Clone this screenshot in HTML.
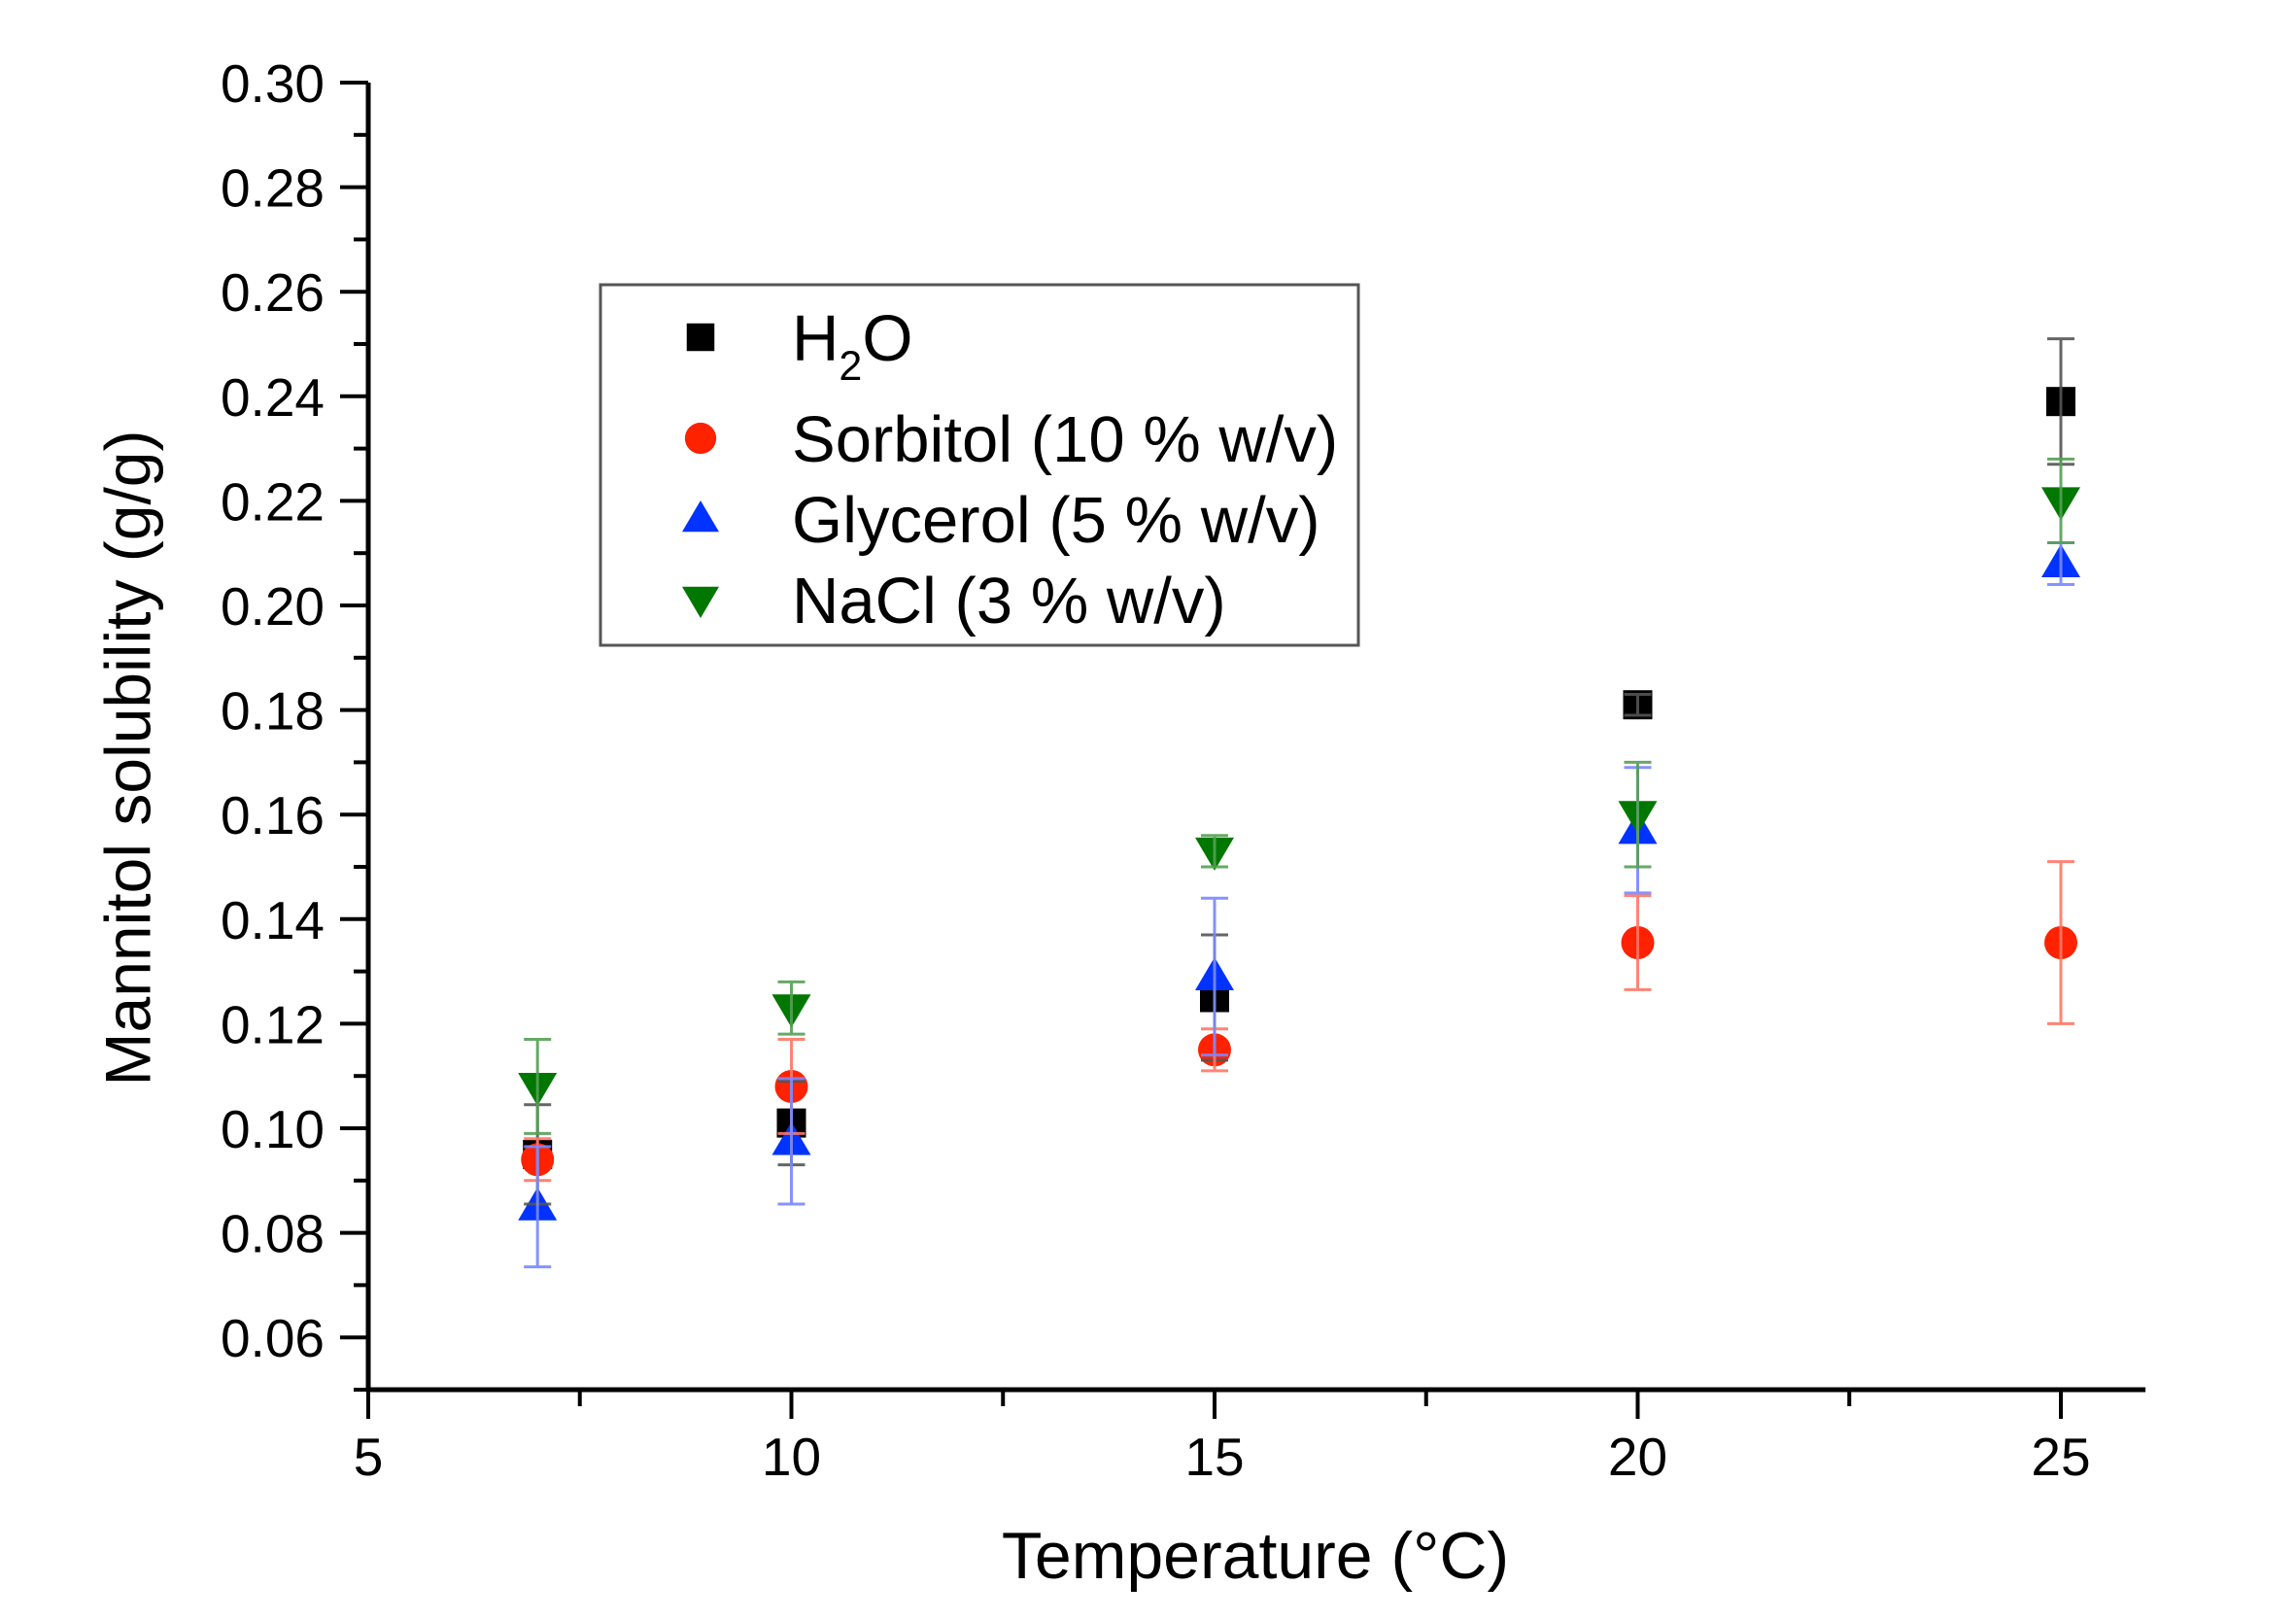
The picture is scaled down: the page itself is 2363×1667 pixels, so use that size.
<!DOCTYPE html>
<html><head><meta charset="utf-8"><style>
html,body{margin:0;padding:0;background:#fff;}
svg{display:block;font-family:"Liberation Sans",Arial,sans-serif;}
</style></head><body>
<svg id="chart" width="2363" height="1667" viewBox="0 0 2363 1667">
<g id="axes"></g>
<g id="errs"></g>
<g id="marks"></g>
<g id="legend">
<rect x="618" y="293" width="780" height="371" fill="#fff" stroke="#555" stroke-width="3"/>
</g>
<text x="137" y="780" font-size="66" text-anchor="middle" transform="rotate(-90 137 780)" dominant-baseline="middle">Mannitol solubility (g/g)</text>
<text x="1292" y="1624" font-size="68" text-anchor="middle">Temperature (°C)</text>
</svg>
<script>
const temps = [7, 10, 15, 20, 25];
const seriesNames = ["H2O", "Sorbitol (10 % w/v)", "Glycerol (5 % w/v)", "NaCl (3 % w/v)"];
const h2oVals = [0.095, 0.101, 0.125, 0.181, 0.239];
const h2oErr = [0.0095, 0.008, 0.012, 0.002, 0.012];
const sorbVals = [0.094, 0.108, 0.115, 0.1355, 0.1355];
const sorbErr = [0.004, 0.009, 0.004, 0.009, 0.0155];
const glyVals = [0.085, 0.0975, 0.129, 0.157, 0.208];
const glyErr = [0.0115, 0.012, 0.015, 0.012, 0.004];
const naclVals = [0.108, 0.123, 0.153, 0.160, 0.220];
const naclErr = [0.009, 0.005, 0.003, 0.010, 0.008];
const yTicks = ["0.06","0.08","0.10","0.12","0.14","0.16","0.18","0.20","0.22","0.24","0.26","0.28","0.30"];
const xTicks = ["5","10","15","20","25"];

const NS = "http://www.w3.org/2000/svg";
const X = t => 379 + (t - 5) * 87.1;
const Y = v => 85 + (0.30 - v) / 0.02 * 107.6;
function mk(tag, attrs, parent){const e=document.createElementNS(NS,tag);for(const k in attrs)e.setAttribute(k,attrs[k]);parent.appendChild(e);return e;}
const axes=document.getElementById('axes');
let l=mk('line',{x1:379,y1:Y(0.30),x2:379,y2:Y(0.05),stroke:'#000','stroke-width':5},axes);


l=mk('line',{x1:377,y1:Y(0.05),x2:X(26),y2:Y(0.05),stroke:'#000','stroke-width':5},axes);


for(let i=0;i<=25;i++){const v=0.05+i*0.01;const major=(i%2===1);
 const t=mk('line',{x1:major?350:364,y1:Y(v),x2:379,y2:Y(v),stroke:'#000','stroke-width':4},axes);
 
 }
yTicks.forEach(s=>{const t=mk('text',{x:334,y:Y(parseFloat(s))+20,'font-size':55,'text-anchor':'end'},axes);t.textContent=s;
 
 });
for(let i=0;i<=8;i++){const v=5+i*2.5;const major=(i%2===0);
 const t=mk('line',{x1:X(v),y1:Y(0.05),x2:X(v),y2:Y(0.05)+(major?30:17),stroke:'#000','stroke-width':4},axes);
 
 }
xTicks.forEach(s=>{const t=mk('text',{x:X(parseFloat(s)),y:1518,'font-size':55,'text-anchor':'middle'},axes);t.textContent=s;
 
 });

const series=[
 {vals:h2oVals,err:h2oErr,fill:'#000',ec:'#555',shape:'sq',name:'h2o'},
 {vals:sorbVals,err:sorbErr,fill:'#ff2200',ec:'#ff7766',shape:'ci',name:'sorbitol'},
 {vals:glyVals,err:glyErr,fill:'#0033ff',ec:'#7788ff',shape:'up',name:'glycerol'},
 {vals:naclVals,err:naclErr,fill:'#007700',ec:'#55a055',shape:'dn',name:'nacl'}];
function marker(shape,cx,cy,fill,parent,s){s=s||1;
 if(shape==='sq')return mk('rect',{x:cx-15*s,y:cy-15*s,width:30*s,height:30*s,fill:fill},parent);
 if(shape==='ci')return mk('circle',{cx:cx,cy:cy,r:17*s,fill:fill},parent);
 if(shape==='up')return mk('polygon',{points:`${cx-20*s},${cy+14*s} ${cx+20*s},${cy+14*s} ${cx},${cy-20*s}`,fill:fill},parent);
 return mk('polygon',{points:`${cx-20*s},${cy-14*s} ${cx+20*s},${cy-14*s} ${cx},${cy+20*s}`,fill:fill},parent);}
const marks=document.getElementById('marks'),errs=document.getElementById('errs');
series.forEach(s=>{s.vals.forEach((v,i)=>{const cx=X(temps[i]),cy=Y(v);
 const m=marker(s.shape,cx,cy,s.fill,marks);
 
 });});
series.forEach(s=>{s.vals.forEach((v,i)=>{const cx=X(temps[i]);const t=Y(v+s.err[i]),b=Y(v-s.err[i]);
 const g=mk('g',{stroke:s.ec,'stroke-width':3,opacity:0.9},errs);
 
 
 mk('line',{x1:cx,y1:t,x2:cx,y2:b},g);
 mk('line',{x1:cx-14,y1:t,x2:cx+14,y2:t},g);
 mk('line',{x1:cx-14,y1:b,x2:cx+14,y2:b},g);});});
document.getElementById('chart').insertBefore(marks,errs);
const leg=document.getElementById('legend');const rows=[347,451,534,617];
series.forEach((s,i)=>{const m=marker(s.shape,721,rows[i],s.fill,leg,0.95);
 
 
 const t=mk('text',{x:815,y:rows[i]+24,'font-size':67},leg);
 
 
 if(i===0){t.innerHTML='H<tspan font-size="43" dy="20">2</tspan><tspan dy="-20">O</tspan>';}
 else t.textContent=seriesNames[i];});
</script>
</body></html>
